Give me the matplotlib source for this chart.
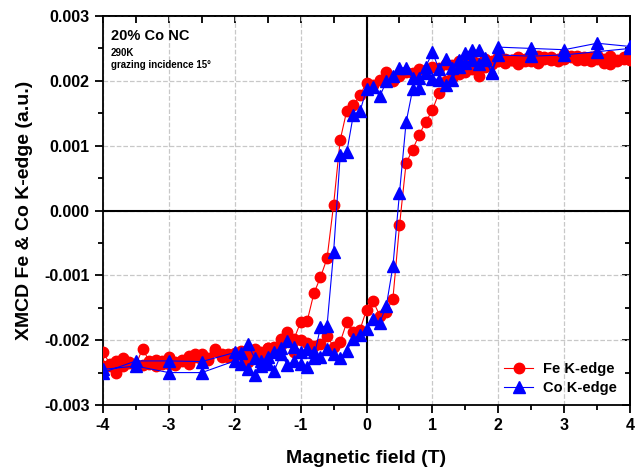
import matplotlib
matplotlib.use('Agg')
import matplotlib.pyplot as plt
from matplotlib.ticker import MultipleLocator

plt.rcParams['font.family'] = ['Liberation Sans', 'DejaVu Sans']
plt.rcParams['font.weight'] = 'bold'

# Fe K-edge: field points (T) for both branches
fe_field = [-4.0, -3.9, -3.8, -3.7, -3.6, -3.5, -3.4, -3.3, -3.2, -3.1,
            -3.0, -2.9, -2.8, -2.7, -2.6, -2.5, -2.4, -2.3, -2.2, -2.1,
            -2.0, -1.9, -1.8, -1.7, -1.6, -1.5, -1.4, -1.3, -1.2, -1.1,
            -1.0, -0.9, -0.8, -0.7, -0.6, -0.5, -0.4, -0.3, -0.2, -0.1,
            0.0, 0.1, 0.2, 0.3, 0.4, 0.5, 0.6, 0.7, 0.8, 0.9,
            1.0, 1.1, 1.2, 1.3, 1.4, 1.5, 1.6, 1.7, 1.8, 1.9,
            2.0, 2.1, 2.2, 2.3, 2.4, 2.5, 2.6, 2.7, 2.8, 2.9,
            3.0, 3.1, 3.2, 3.3, 3.4, 3.5, 3.6, 3.7, 3.8, 3.9, 4.0]
# branch swept from +4 T down to -4 T (listed in increasing field)
fe_down = [-0.00240, -0.00240, -0.00250, -0.00240, -0.00235, -0.00240, -0.00238, -0.00236, -0.00240, -0.00232,
           -0.00237, -0.00238, -0.00232, -0.00224, -0.00222, -0.00230, -0.00228, -0.00214, -0.00226, -0.00222,
           -0.00225, -0.00219, -0.00234, -0.00215, -0.00218, -0.00212, -0.00210, -0.00198, -0.00188, -0.00198,
           -0.00172, -0.00170, -0.00128, -0.00103, -0.00074, 0.00009, 0.00109, 0.00154, 0.00162, 0.00178,
           0.00197, 0.00194, 0.00202, 0.00213, 0.00200, 0.00207, 0.00214, 0.00212, 0.00218, 0.00216,
           0.00222, 0.00220, 0.00226, 0.00224, 0.00230, 0.00226, 0.00232, 0.00228, 0.00234, 0.00230,
           0.00236, 0.00234, 0.00232, 0.00236, 0.00230, 0.00234, 0.00238, 0.00236, 0.00232, 0.00234,
           0.00242, 0.00236, 0.00238, 0.00232, 0.00236, 0.00240, 0.00234, 0.00238, 0.00232, 0.00236, 0.00240]
# branch swept from -4 T up to +4 T
fe_up = [-0.00218, -0.00236, -0.00232, -0.00228, -0.00234, -0.00238, -0.00213, -0.00232, -0.00230, -0.00236,
         -0.00226, -0.00234, -0.00230, -0.00236, -0.00226, -0.00222, -0.00230, -0.00216, -0.00222, -0.00226,
         -0.00220, -0.00216, -0.00222, -0.00214, -0.00220, -0.00212, -0.00216, -0.00208, -0.00196, -0.00218,
         -0.00200, -0.00204, -0.00209, -0.00206, -0.00194, -0.00210, -0.00203, -0.00172, -0.00187, -0.00184,
         -0.00153, -0.00140, -0.00162, -0.00156, -0.00136, -0.00023, 0.00073, 0.00094, 0.00117, 0.00137,
         0.00155, 0.00182, 0.00200, 0.00205, 0.00210, 0.00214, 0.00218, 0.00208, 0.00222, 0.00226,
         0.00230, 0.00228, 0.00232, 0.00226, 0.00234, 0.00230, 0.00228, 0.00234, 0.00236, 0.00230,
         0.00234, 0.00238, 0.00232, 0.00236, 0.00230, 0.00234, 0.00228, 0.00226, 0.00230, 0.00234, 0.00232]

# Co K-edge
co_field = [-4.0, -3.5, -3.0, -2.5,
            -2.0, -1.9, -1.8, -1.7, -1.6, -1.5, -1.4, -1.3, -1.2, -1.1,
            -1.0, -0.9, -0.8, -0.7, -0.6, -0.5, -0.4, -0.3, -0.2, -0.1,
            0.0, 0.1, 0.2, 0.3, 0.4, 0.5, 0.6, 0.7, 0.8, 0.9,
            1.0, 1.1, 1.2, 1.3, 1.4, 1.5, 1.6, 1.7, 1.8, 1.9,
            2.0, 2.5, 3.0, 3.5, 4.0]
co_down = [-0.00245, -0.00240, -0.00250, -0.00250,
           -0.00232, -0.00236, -0.00245, -0.00254, -0.00240, -0.00236, -0.00247, -0.00222, -0.00238, -0.00232,
           -0.00237, -0.00242, -0.00227, -0.00180, -0.00178, -0.00064, 0.00085, 0.00090, 0.00148, 0.00153,
           0.00187, 0.00191, 0.00176, 0.00199, 0.00208, 0.00220, 0.00220, 0.00204, 0.00204, 0.00212,
           0.00203, 0.00202, 0.00194, 0.00202, 0.00222, 0.00228, 0.00232, 0.00226, 0.00232, 0.00212,
           0.00240, 0.00238, 0.00240, 0.00245, 0.00250]
co_up = [-0.00250, -0.00232, -0.00232, -0.00233,
         -0.00219, -0.00220, -0.00206, -0.00228, -0.00232, -0.00226, -0.00218, -0.00212, -0.00201, -0.00210,
         -0.00218, -0.00214, -0.00218, -0.00226, -0.00214, -0.00222, -0.00228, -0.00216, -0.00198, -0.00192,
         -0.00182, -0.00167, -0.00173, -0.00147, -0.00086, 0.00027, 0.00136, 0.00187, 0.00189, 0.00222,
         0.00244, 0.00218, 0.00233, 0.00220, 0.00232, 0.00243, 0.00248, 0.00247, 0.00235, 0.00213,
         0.00252, 0.00250, 0.00248, 0.00258, 0.00253]

fig = plt.figure(figsize=(6.41, 4.68), dpi=100)
ax = fig.add_axes([0.1607, 0.1346, 0.8223, 0.8312])

# full loop: down sweep then up sweep
fe_x = fe_field[::-1] + fe_field
fe_y = fe_down[::-1] + fe_up
co_x = co_field[::-1] + co_field
co_y = co_down[::-1] + co_up

ax.axhline(0, color='black', lw=1.5, zorder=2)
ax.axvline(0, color='black', lw=1.5, zorder=2)

ax.plot(fe_x, fe_y, '-o', color='red', lw=0.8, markersize=7.5, label='Fe K-edge', zorder=3)
ax.plot(co_x, co_y, '-^', color='blue', lw=0.8, markersize=8, label='Co K-edge', zorder=4)

ax.set_xlim(-4, 4)
ax.set_ylim(-0.003, 0.003)
ax.xaxis.set_minor_locator(MultipleLocator(0.5))
ax.yaxis.set_minor_locator(MultipleLocator(0.0005))
ax.set_yticks([-0.003, -0.002, -0.001, 0.0, 0.001, 0.002, 0.003])
ax.set_yticklabels(['-0.003', '-0.002', '-0.001', '0.000', '0.001', '0.002', '0.003'])
ax.set_xticks([-4, -3, -2, -1, 0, 1, 2, 3, 4])
ax.set_xticklabels(['-4', '-3', '-2', '-1', '0', '1', '2', '3', '4'])
ax.tick_params(which='major', direction='out', length=6, width=1.3, labelsize=11.5)
ax.tick_params(which='minor', direction='out', length=3.5, width=1.3)
ax.grid(True, which='major', linestyle='--', color='#c8c8c8', lw=0.9, zorder=0)
ax.set_axisbelow(True)

# mirrored ticks pointing inward on top and right
top = ax.secondary_xaxis('top')
top.xaxis.set_major_locator(MultipleLocator(1))
top.xaxis.set_minor_locator(MultipleLocator(0.5))
top.tick_params(which='both', direction='in', length=5, width=1.3, labeltop=False)
right = ax.secondary_yaxis('right')
right.yaxis.set_major_locator(MultipleLocator(0.001))
right.yaxis.set_minor_locator(MultipleLocator(0.0005))
right.tick_params(which='major', direction='in', length=6, width=1.3, labelright=False)
right.tick_params(which='minor', direction='in', length=3.5, width=1.3, labelright=False)

for s in ax.spines.values():
    s.set_linewidth(1.3)
for s in list(top.spines.values()) + list(right.spines.values()):
    s.set_linewidth(1.3)

ax.set_xlabel('Magnetic field (T)', fontsize=14, fontweight='bold', labelpad=12)
ax.set_ylabel('XMCD Fe & Co K-edge (a.u.)', fontsize=14, fontweight='bold', labelpad=8)

ax.text(0.015, 0.948, '20% Co NC', transform=ax.transAxes, fontsize=10.5, fontweight='bold', va='center')
ax.text(0.015, 0.905, '290K', transform=ax.transAxes, fontsize=7, fontweight='bold', va='center')
ax.text(0.015, 0.875, 'grazing incidence 15\u00b0', transform=ax.transAxes, fontsize=7, fontweight='bold', va='center')

ax.legend(loc='lower right', frameon=False, prop={'weight': 'bold', 'size': 10.5},
          handlelength=2.0, handletextpad=0.7, labelspacing=0.35, borderaxespad=0.3,
          bbox_to_anchor=(0.995, 0.0))

fig.savefig('out.png', dpi=100)
